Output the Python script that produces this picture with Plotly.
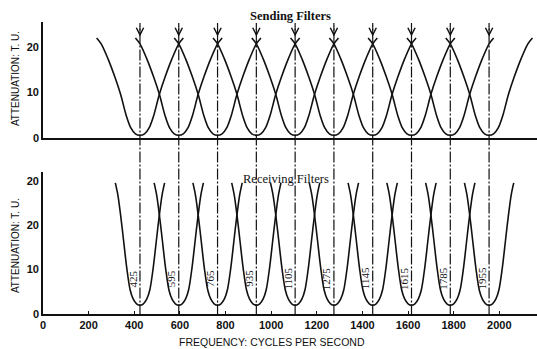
import plotly.graph_objects as go

# Mid-band frequencies of the ten channels (cycles per second)
centers = [425, 595, 765, 935, 1105, 1275, 1445, 1615, 1785, 1955]
# Channel labels as printed on the receiving curves
center_labels = ["425", "595", "765", "935", "1105", "1275", "1145", "1615", "1785", "1955"]

# Sending filter: attenuation (T.U.) against distance from mid-band (c/s)
send_offsets = [0, 20, 40, 60, 85, 110, 140, 170, 190]
send_atten = [0.6, 0.9, 2.2, 4.9, 9.6, 13.4, 17.4, 20.7, 22.0]

# Receiving filter: attenuation (T.U.) against distance from mid-band (c/s)
recv_offsets = [0, 15, 30, 43, 58, 72, 85, 97, 108]
recv_atten = [2.0, 2.3, 3.4, 5.4, 10.4, 16.6, 22.3, 26.8, 29.5]

x_ticks = [0, 200, 400, 600, 800, 1000, 1200, 1400, 1600, 1800, 2000]
top_y_ticks = [0, 10, 20]
bottom_y_ticks = [0, 10, 20, 30]
bottom_y_ticktext = ["0", "10", "20", "20"]

INK = "#111111"
SANS = "Liberation Sans, Arial, sans-serif"
SERIF = "Liberation Serif, Times New Roman, serif"


def band_curve(center, offsets, atten):
    xs = [center - d for d in reversed(offsets)] + [center + d for d in offsets[1:]]
    ys = list(reversed(atten)) + list(atten[1:])
    return xs, ys


fig = go.Figure()

for c in centers:
    xs, ys = band_curve(c, send_offsets, send_atten)
    fig.add_trace(go.Scatter(x=xs, y=ys, mode="lines", xaxis="x", yaxis="y",
                             line=dict(color=INK, width=1.6, shape="spline", smoothing=0.9),
                             hoverinfo="skip", showlegend=False))
    xs, ys = band_curve(c, recv_offsets, recv_atten)
    fig.add_trace(go.Scatter(x=xs, y=ys, mode="lines", xaxis="x2", yaxis="y2",
                             line=dict(color=INK, width=1.6, shape="spline", smoothing=0.9),
                             hoverinfo="skip", showlegend=False))

# Dash-dot mid-band lines running through both panels
for c in centers:
    fig.add_shape(type="line", xref="x2", yref="paper", x0=c, x1=c, y0=-0.005, y1=0.997,
                  line=dict(color=INK, width=1.2, dash="11px,2px,2px,2px"))

annotations = []
# Arrowheads at the top of each mid-band line
for c in centers:
    annotations.append(dict(x=c, y=22.3, xref="x", yref="y", text="", showarrow=True,
                            arrowhead=5, arrowsize=1.3, arrowwidth=1.1, arrowcolor=INK,
                            ax=0, ay=-12))
# Frequency labels on the receiving curves
for c, lab in zip(centers, center_labels):
    annotations.append(dict(x=c, y=8, xref="x2", yref="y2", text=lab, showarrow=False,
                            textangle=-90, xshift=-7, xanchor="center", yanchor="middle",
                            font=dict(family=SERIF, size=11, color=INK)))


def label(x, y, text, font, angle=0):
    return dict(x=x, y=y, xref="paper", yref="paper", text=text, showarrow=False,
                textangle=angle, xanchor="center", yanchor="middle", font=font)


annotations += [
    label(0.5, 1.021, "<b>Sending Filters</b>", dict(family=SERIF, size=12.5, color=INK)),
    label(0.492, 0.462, "Receiving Filters", dict(family=SERIF, size=12.5, color=INK)),
    label(-0.0567, 0.808, "ATTENUATION: T. U.", dict(family=SANS, size=10, color=INK), -90),
    label(-0.0567, 0.236, "ATTENUATION: T. U.", dict(family=SANS, size=10, color=INK), -90),
    label(0.4636, -0.096, "FREQUENCY: CYCLES PER SECOND", dict(family=SANS, size=10.5, color=INK)),
]

axis_common = dict(showline=True, linecolor=INK, linewidth=1.6, showgrid=False,
                   zeroline=False,
                   tickfont=dict(family=SANS, size=11, color=INK, weight="bold"))

fig.update_layout(
    width=537, height=349,
    margin=dict(l=43, r=0, t=22, b=35),
    paper_bgcolor="white", plot_bgcolor="white",
    showlegend=False,
    xaxis=dict(domain=[0, 1], range=[0, 2165], anchor="y", showticklabels=False,
               ticks="", **axis_common),
    yaxis=dict(domain=[0.603, 1], range=[0, 25.5], anchor="x", tickvals=top_y_ticks,
               ticks="", **axis_common),
    xaxis2=dict(domain=[0, 1], range=[0, 2165], anchor="y2", tickvals=x_ticks,
                ticktext=[str(v) for v in x_ticks], ticks="inside", ticklen=3,
                tickwidth=1, tickcolor=INK, **axis_common),
    yaxis2=dict(domain=[0, 0.487], range=[0, 32], anchor="x2", tickvals=bottom_y_ticks,
                ticktext=bottom_y_ticktext, ticks="", **axis_common),
    annotations=annotations,
)

fig.write_html("out.html")
